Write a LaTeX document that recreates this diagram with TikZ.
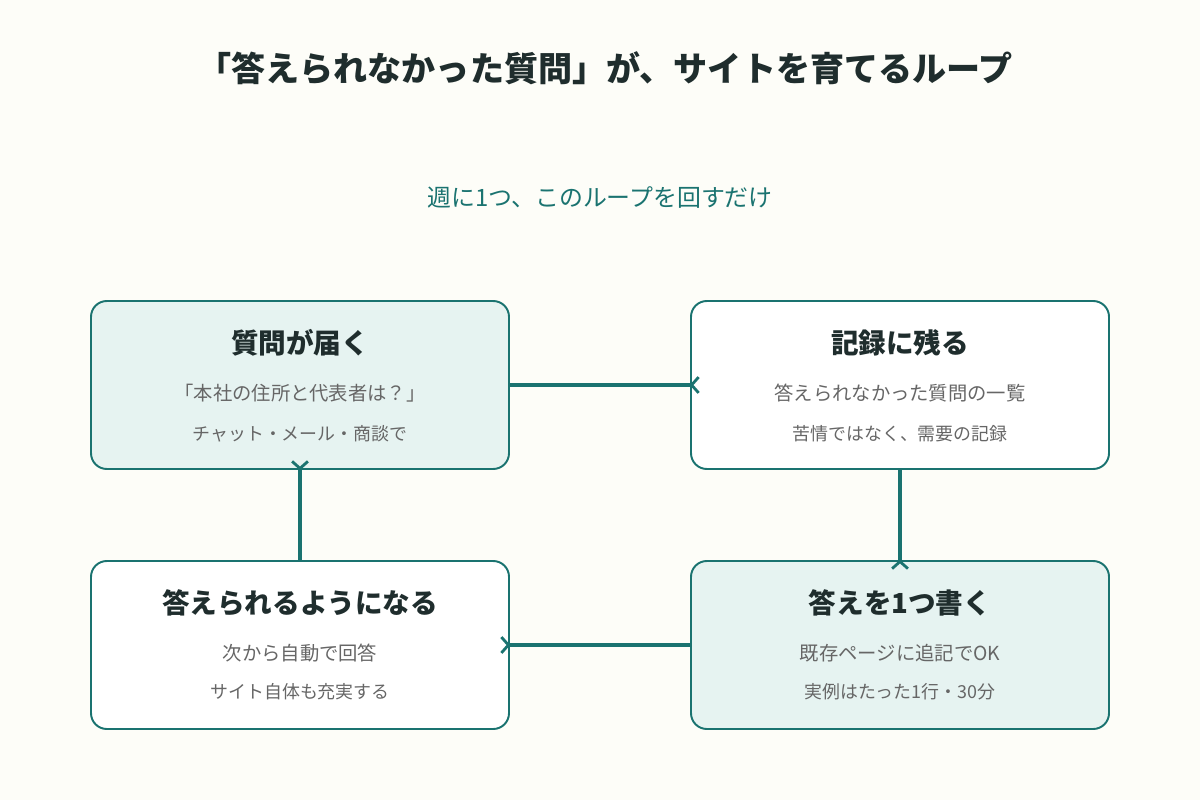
\documentclass[tikz,border=0pt]{standalone}
\usepackage{fontspec}
\setmainfont{Noto Sans CJK JP}
\usetikzlibrary{arrows.meta}
\definecolor{loopteal}{HTML}{1A7370}
\definecolor{tealbg}{HTML}{E6F3F1}
\definecolor{paper}{HTML}{FDFDF8}
\definecolor{ink}{HTML}{1F2D2D}
\definecolor{greytext}{HTML}{666666}
\tikzset{
  card/.style={draw=loopteal, line width=1.1pt, rounded corners=9pt, minimum width=418*0.02cm, minimum height=168*0.02cm},
  hot/.style={card, fill=tealbg},
  cold/.style={card, fill=white},
  flow/.style={draw=loopteal, line width=2.2pt, shorten >=-0.2cm, -{Straight Barb[reversed, length=4pt, width=9pt, line width=1.6pt]}},
  head/.style={font=\fontsize{15.7}{18}\selectfont\bfseries, text=ink},
  line1/.style={font=\fontsize{11}{13}\selectfont, text=greytext},
  line2/.style={font=\fontsize{10.2}{12}\selectfont, text=greytext}
}
\begin{document}
\begin{tikzpicture}[x=0.02cm, y=-0.02cm]
\fill[paper] (0,0) rectangle (1200,800);
\useasboundingbox (0,0) rectangle (1200,800);

\node (title) at (605,68) [font=\fontsize{19.4}{22}\selectfont\bfseries, text=ink] {「答えられなかった質問」が、サイトを育てるループ};
\node (sub) at (600,198) [font=\fontsize{13.6}{16}\selectfont, text=loopteal] {週に1つ、このループを回すだけ};

% boxes
\node (ask) at (300,385) [hot] {};
\node (log) at (900,385) [cold] {};
\node (write) at (900,645) [hot] {};
\node (done) at (300,645) [cold] {};

% texts
\node (askh) at (300,343) [head] {質問が届く};
\node (ask1) at (300,393) [line1] {「本社の住所と代表者は？」};
\node (ask2) at (300,434) [line2] {チャット・メール・商談で};
\node (logh) at (900,343) [head] {記録に残る};
\node (log1) at (900,393) [line1] {答えられなかった質問の一覧};
\node (log2) at (900,434) [line2] {苦情ではなく、需要の記録};
\node (writeh) at (900,603) [head] {答えを1つ書く};
\node (write1) at (900,653) [line1] {既存ページに追記でOK};
\node (write2) at (900,692) [line2] {実例はたった1行・30分};
\node (doneh) at (300,603) [head] {答えられるようになる};
\node (done1) at (300,653) [line1] {次から自動で回答};
\node (done2) at (300,692) [line2] {サイト自体も充実する};

% loop
\draw[flow] (ask.east) -- (log.west);
\draw[flow] (log.south) -- (write.north);
\draw[flow] (write.west) -- (done.east);
\draw[flow] (done.north) -- (ask.south);
\end{tikzpicture}
\end{document}
